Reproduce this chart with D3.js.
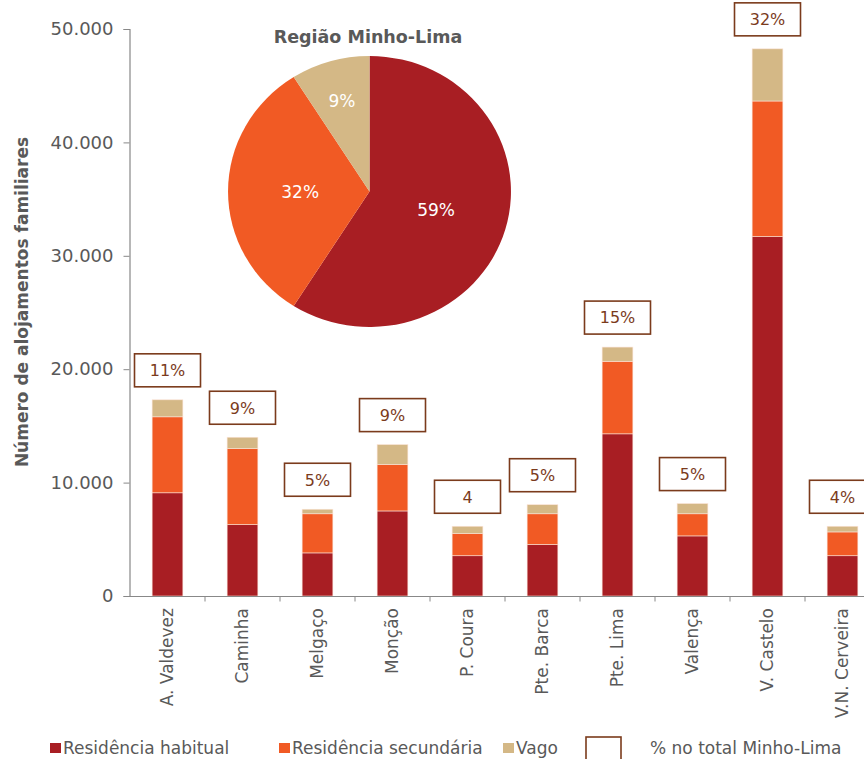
<!DOCTYPE html>
<html>
<head>
<meta charset="utf-8">
<script src="https://cdn.jsdelivr.net/npm/d3@7"></script>
<style>
  body { margin: 0; background: #fff; }
  svg { display: block; font-family: "DejaVu Sans", Verdana, sans-serif; }
</style>
</head>
<body>
<svg id="chart" width="864" height="759"></svg>
<script>
// concelhos e valores (alojamentos familiares)
const concelhos = ["A. Valdevez", "Caminha", "Melgaço", "Monção", "P. Coura",
    "Pte. Barca", "Pte. Lima", "Valença", "V. Castelo", "V.N. Cerveira"];
const habitual = [9100, 6300, 3800, 7500, 3550, 4550, 14300, 5300, 31700, 3550];
const secundaria = [6700, 6700, 3450, 4100, 1950, 2700, 6400, 1950, 11950, 2100];
const vago = [1500, 1000, 400, 1750, 650, 800, 1250, 900, 4600, 500];
const pesoTotal = ["11%", "9%", "5%", "9%", "4", "5%", "15%", "5%", "32%", "4%"];

const yTicks = [0, 10000, 20000, 30000, 40000, 50000];

const pieLabels = ["Residência habitual", "Residência secundária", "Vago"];
const pieValues = [59, 32, 9];

const colors = ["#A81E23", "#F15A24", "#D4B886"];
const textGray = "#595959";
const brown = "#7B3B1C";

const svg = d3.select("#chart");

const x = d3.scaleBand()
    .domain(concelhos)
    .range([130, 880])
    .paddingInner(0.59)
    .paddingOuter(0.295);

const y = d3.scaleLinear().domain([0, 50000]).range([596, 29]);

const fmt = d3.formatLocale({ decimal: ",", thousands: ".", grouping: [3], currency: ["", ""] }).format(",d");

// barras empilhadas
const rows = concelhos.map((c, i) => ({
    concelho: c, habitual: habitual[i], secundaria: secundaria[i], vago: vago[i]
}));
const stack = d3.stack().keys(["habitual", "secundaria", "vago"])(rows);

svg.append("g")
    .selectAll("g")
    .data(stack)
    .join("g")
    .attr("fill", (d, i) => colors[i])
    .selectAll("rect")
    .data((d) => d)
    .join("rect")
    .attr("x", (d) => x(d.data.concelho))
    .attr("width", x.bandwidth())
    .attr("y", (d) => y(d[1]))
    .attr("height", (d) => y(d[0]) - y(d[1]))
    .attr("stroke", "#fbe3d6")
    .attr("stroke-width", 0.6);

// eixo y
const yAxis = svg.append("g")
    .attr("transform", "translate(129.5,0)")
    .call(d3.axisLeft(y).tickValues(yTicks).tickFormat(fmt).tickSize(6).tickPadding(10));
yAxis.select(".domain").attr("stroke", "#888").attr("stroke-width", 1.2);
yAxis.selectAll(".tick line").attr("stroke", "#888");
yAxis.selectAll(".tick text")
    .attr("fill", textGray)
    .style("font-size", "18px")
    .style("font-family", "DejaVu Sans, sans-serif");

// eixo x
const xAxisG = svg.append("g").attr("transform", "translate(0,596.5)");
xAxisG.append("line")
    .attr("x1", 129).attr("x2", 864)
    .attr("stroke", "#888").attr("stroke-width", 1.2);
xAxisG.selectAll("line.tk")
    .data(concelhos)
    .join("line")
    .attr("class", "tk")
    .attr("x1", (d) => x(d) + x.bandwidth() / 2 + x.step() / 2)
    .attr("x2", (d) => x(d) + x.bandwidth() / 2 + x.step() / 2)
    .attr("y1", 0).attr("y2", 5)
    .attr("stroke", "#888");

svg.append("g")
    .selectAll("text")
    .data(concelhos)
    .join("text")
    .attr("transform", (d) => `translate(${x(d) + x.bandwidth() / 2},608) rotate(-90)`)
    .attr("text-anchor", "end")
    .attr("dy", "0.35em")
    .attr("fill", textGray)
    .style("font-size", "17px")
    .text((d) => d);

// título do eixo y
svg.append("text")
    .attr("transform", "translate(28,302) rotate(-90)")
    .attr("text-anchor", "middle")
    .attr("fill", textGray)
    .style("font-size", "17px")
    .style("font-weight", "bold")
    .text("Número de alojamentos familiares");

// caixas com % no total
const boxW = 66, boxH = 33, boxGap = 13;
const boxes = svg.append("g")
    .selectAll("g")
    .data(rows)
    .join("g")
    .attr("transform", (d) => {
        const top = y(d.habitual + d.secundaria + d.vago);
        return `translate(${x(d.concelho) + x.bandwidth() / 2},${top - boxGap - boxH / 2})`;
    });
boxes.append("rect")
    .attr("x", -boxW / 2).attr("y", -boxH / 2)
    .attr("width", boxW).attr("height", boxH)
    .attr("fill", "#fff")
    .attr("stroke", brown)
    .attr("stroke-width", 1.6);
boxes.append("text")
    .attr("text-anchor", "middle")
    .attr("dy", "0.36em")
    .attr("fill", brown)
    .style("font-size", "16px")
    .text((d, i) => pesoTotal[i]);

// gráfico circular
const cx = 369.5, cy = 191.5, r = 135.5;
const pieG = svg.append("g").attr("transform", `translate(${cx},${cy}) scale(1.044,1)`);
const arcs = d3.pie().sort(null)(pieValues);
const arc = d3.arc().innerRadius(0).outerRadius(r);
pieG.selectAll("path")
    .data(arcs)
    .join("path")
    .attr("d", arc)
    .attr("fill", (d, i) => colors[i]);

svg.append("g")
    .attr("transform", `translate(${cx},${cy})`)
    .selectAll("text")
    .data(arcs)
    .join("text")
    .attr("transform", (d) => {
        const a = (d.startAngle + d.endAngle) / 2;
        const k = d.data < 15 ? 0.7 : 0.49;
        return `translate(${Math.sin(a) * r * k * 1.044},${-Math.cos(a) * r * k})`;
    })
    .attr("text-anchor", "middle")
    .attr("dy", "0.36em")
    .attr("fill", "#fff")
    .style("font-size", "17px")
    .text((d) => d.data + "%");

svg.append("text")
    .attr("x", 368).attr("y", 43)
    .attr("text-anchor", "middle")
    .attr("fill", textGray)
    .style("font-size", "17.5px")
    .style("font-weight", "bold")
    .text("Região Minho-Lima");

// legenda
const legendX = [50, 279, 503];
const leg = svg.append("g");
pieLabels.forEach((name, i) => {
    leg.append("rect")
        .attr("x", legendX[i]).attr("y", 743)
        .attr("width", 11).attr("height", 10)
        .attr("fill", colors[i]);
    leg.append("text")
        .attr("x", legendX[i] + 13).attr("y", 754)
        .attr("fill", textGray)
        .style("font-size", "17px")
        .text(name);
});
leg.append("rect")
    .attr("x", 586).attr("y", 737)
    .attr("width", 35).attr("height", 26)
    .attr("fill", "#fff")
    .attr("stroke", brown)
    .attr("stroke-width", 1.6);
leg.append("text")
    .attr("x", 650).attr("y", 754)
    .attr("fill", textGray)
    .style("font-size", "17px")
    .text("% no total Minho-Lima");
</script>
</body>
</html>
